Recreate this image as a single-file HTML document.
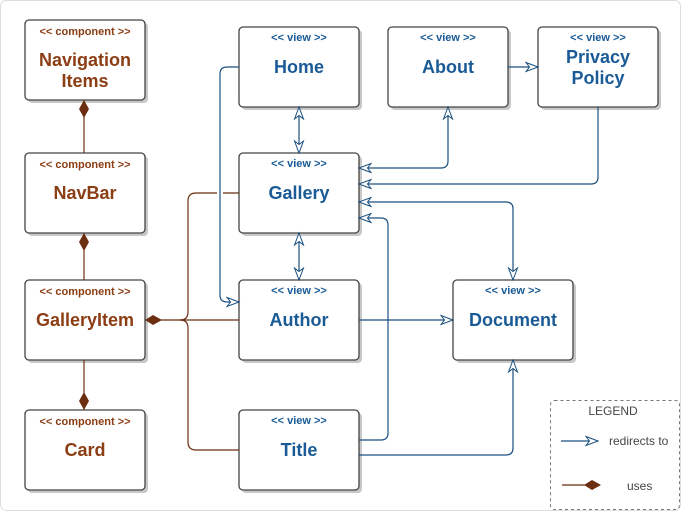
<!DOCTYPE html>
<html><head><meta charset="utf-8"><style>
html,body{margin:0;padding:0;background:#fff;}
svg{display:block;font-family:"Liberation Sans",Arial,sans-serif;}
.st{font-size:11px;font-weight:bold;}
.tt{font-size:18px;font-weight:bold;}
</style></head><body>
<svg width="681" height="511" viewBox="0 0 681 511" xmlns="http://www.w3.org/2000/svg">
<defs>
<marker id="oa" markerWidth="16" markerHeight="12" refX="13" refY="6" orient="auto" markerUnits="userSpaceOnUse">
<path d="M1,1.5 L13,6 L1,10.5 L4.5,6 Z" fill="#fff" stroke="#1a4f7f" stroke-width="1"/>
</marker>
<marker id="oas" markerWidth="16" markerHeight="12" refX="13" refY="6" orient="auto-start-reverse" markerUnits="userSpaceOnUse">
<path d="M1,1.5 L13,6 L1,10.5 L4.5,6 Z" fill="#fff" stroke="#1a4f7f" stroke-width="1"/>
</marker>
</defs>
<rect x="0.5" y="0.5" width="680" height="510" rx="6" fill="#fff" stroke="#ddd"/>

<g stroke="#444" stroke-width="1.3">
<g fill="#c8c8c8" stroke="none">
<rect x="28" y="23" width="120" height="80" rx="4"/>
<rect x="28" y="156" width="120" height="80" rx="4"/>
<rect x="28" y="283" width="120" height="80" rx="4"/>
<rect x="28" y="413" width="120" height="80" rx="4"/>
<rect x="242" y="30" width="120" height="80" rx="4"/>
<rect x="242" y="156" width="120" height="80" rx="4"/>
<rect x="242" y="283" width="120" height="80" rx="4"/>
<rect x="242" y="413" width="120" height="80" rx="4"/>
<rect x="391" y="30" width="120" height="80" rx="4"/>
<rect x="541" y="30" width="120" height="80" rx="4"/>
<rect x="456" y="283" width="120" height="80" rx="4"/>
</g>
<g fill="#fff">
<rect x="25" y="20" width="120" height="80" rx="4"/>
<rect x="25" y="153" width="120" height="80" rx="4"/>
<rect x="25" y="280" width="120" height="80" rx="4"/>
<rect x="25" y="410" width="120" height="80" rx="4"/>
<rect x="239" y="27" width="120" height="80" rx="4"/>
<rect x="239" y="153" width="120" height="80" rx="4"/>
<rect x="239" y="280" width="120" height="80" rx="4"/>
<rect x="239" y="410" width="120" height="80" rx="4"/>
<rect x="388" y="27" width="120" height="80" rx="4"/>
<rect x="538" y="27" width="120" height="80" rx="4"/>
<rect x="453" y="280" width="120" height="80" rx="4"/>
</g>
</g>

<g stroke="#6b2e10" stroke-width="1.2" fill="none">
<line x1="84" y1="100" x2="84" y2="153"/>
<line x1="84" y1="233" x2="84" y2="280"/>
<line x1="84" y1="360" x2="84" y2="410"/>
<line x1="145" y1="320" x2="239" y2="320"/>
<path d="M180,320 Q188,320 188,312 L188,201 Q188,193 196,193 L217,193 M223,193 L239,193"/>
<path d="M180,320 Q188,320 188,328 L188,442 Q188,450 196,450 L239,450"/>
<line x1="562" y1="485" x2="585" y2="485"/>
</g>
<g fill="#6b2e10">
<path d="M84,100 L89,109 L84,118 L79,109 Z"/>
<path d="M84,233 L89,242 L84,251 L79,242 Z"/>
<path d="M84,392 L89,401 L84,410 L79,401 Z"/>
<path d="M145,320 L153,315 L162,320 L153,325 Z"/>
<path d="M584,485 L592,480 L601,485 L592,490 Z"/>
</g>

<g stroke="#1a4f7f" stroke-width="1.2" fill="none">
<path d="M239,67 L227,67 Q220,67 220,74 L220,295 Q220,302 227,302 L239,302" marker-end="url(#oa)"/>
<line x1="299" y1="107" x2="299" y2="153" marker-start="url(#oas)" marker-end="url(#oa)"/>
<line x1="299" y1="233" x2="299" y2="280" marker-start="url(#oas)" marker-end="url(#oa)"/>
<line x1="508" y1="67" x2="538" y2="67" marker-end="url(#oa)"/>
<path d="M359,168 L441,168 Q448,168 448,161 L448,107" marker-start="url(#oas)" marker-end="url(#oa)"/>
<path d="M598,107 L598,177 Q598,184 591,184 L359,184" marker-end="url(#oa)"/>
<path d="M359,202 L506,202 Q513,202 513,209 L513,280" marker-start="url(#oas)" marker-end="url(#oa)"/>
<path d="M359,440 L381,440 Q388,440 388,433 L388,225 Q388,218 381,218 L359,218" marker-end="url(#oa)"/>
<line x1="359" y1="320" x2="453" y2="320" marker-end="url(#oa)"/>
<path d="M359,455 L506,455 Q513,455 513,448 L513,360" marker-end="url(#oa)"/>
<line x1="561" y1="441" x2="598" y2="441" marker-end="url(#oa)"/>
</g>

<rect x="550.5" y="400.5" width="129" height="109" rx="4" fill="none" stroke="#777" stroke-dasharray="3,3"/>
<text x="613" y="415" text-anchor="middle" font-size="12" fill="#444">LEGEND</text>
<text x="609" y="445" font-size="12" fill="#444">redirects to</text>
<text x="627" y="490" font-size="12" fill="#444">uses</text>

<g fill="#8b3d13" text-anchor="middle">
<text class="st" x="85" y="35">&lt;&lt; component &gt;&gt;</text>
<text class="tt" x="85" y="66">Navigation</text>
<text class="tt" x="85" y="87">Items</text>
<text class="st" x="85" y="168">&lt;&lt; component &gt;&gt;</text>
<text class="tt" x="85" y="199">NavBar</text>
<text class="st" x="85" y="295">&lt;&lt; component &gt;&gt;</text>
<text class="tt" x="85" y="326">GalleryItem</text>
<text class="st" x="85" y="425">&lt;&lt; component &gt;&gt;</text>
<text class="tt" x="85" y="456">Card</text>
</g>
<g fill="#1a5a96" text-anchor="middle">
<text class="st" x="299" y="41">&lt;&lt; view &gt;&gt;</text>
<text class="tt" x="299" y="73">Home</text>
<text class="st" x="299" y="167">&lt;&lt; view &gt;&gt;</text>
<text class="tt" x="299" y="199">Gallery</text>
<text class="st" x="299" y="294">&lt;&lt; view &gt;&gt;</text>
<text class="tt" x="299" y="326">Author</text>
<text class="st" x="299" y="424">&lt;&lt; view &gt;&gt;</text>
<text class="tt" x="299" y="456">Title</text>
<text class="st" x="448" y="41">&lt;&lt; view &gt;&gt;</text>
<text class="tt" x="448" y="73">About</text>
<text class="st" x="598" y="41">&lt;&lt; view &gt;&gt;</text>
<text class="tt" x="598" y="63">Privacy</text>
<text class="tt" x="598" y="84">Policy</text>
<text class="st" x="513" y="294">&lt;&lt; view &gt;&gt;</text>
<text class="tt" x="513" y="326">Document</text>
</g>
</svg>
</body></html>
